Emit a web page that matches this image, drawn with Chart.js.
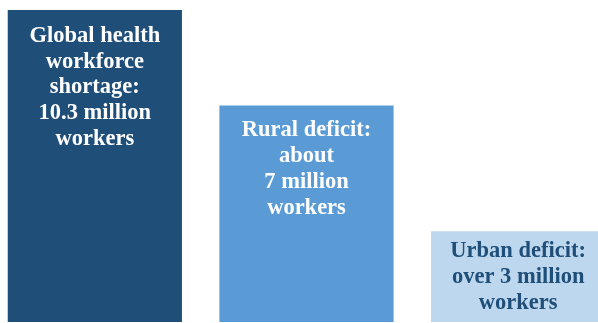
<!DOCTYPE html>
<html>
<head>
<meta charset="utf-8">
<script src="https://cdn.jsdelivr.net/npm/chart.js@4.4.1/dist/chart.umd.min.js"></script>
<style>
  html, body { margin: 0; padding: 0; background: #fff; overflow: hidden; }
  #wrap { position: absolute; left: -11px; top: 0; width: 635px; height: 323px; }
</style>
</head>
<body>
<div id="wrap"><canvas id="chart"></canvas></div>
<script>
// values in millions of workers
const categories = ['Global', 'Rural', 'Urban'];
const shortage = [10.3, 7.15, 3.0];
const barLabels = [
    ['Global health', 'workforce', 'shortage:', '10.3 million', 'workers'],
    ['Rural deficit:', 'about', '7 million', 'workers'],
    ['Urban deficit:', 'over 3 million', 'workers']
];

const barColors = ['#1f4e79', '#5b9bd5', '#bdd7ee'];
const textColors = ['#ffffff', '#ffffff', '#1f4e79'];
const textOffsets = [26, 25, 20];

// writes the label lines inside each bar, starting near its top
const insideLabels = {
    id: 'insideLabels',
    afterDatasetsDraw(chart) {
        const ctx = chart.ctx;
        const meta = chart.getDatasetMeta(0);
        ctx.save();
        ctx.font = 'bold 22.5px "Liberation Serif", serif';
        ctx.textAlign = 'center';
        ctx.textBaseline = 'middle';
        meta.data.forEach((bar, i) => {
            ctx.fillStyle = textColors[i];
            barLabels[i].forEach((line, j) => {
                ctx.fillText(line, bar.x, bar.y + textOffsets[i] + j * 25.8);
            });
        });
        ctx.restore();
    }
};

new Chart(document.getElementById('chart'), {
    type: 'bar',
    data: {
        labels: categories,
        datasets: [{
            data: shortage,
            backgroundColor: barColors,
            borderWidth: 0,
            categoryPercentage: 1,
            barPercentage: 0.823
        }]
    },
    options: {
        responsive: true,
        maintainAspectRatio: false,
        animation: false,
        layout: { padding: { top: 10, bottom: 1, left: 0, right: 0 } },
        scales: {
            x: { display: false },
            y: { display: false, min: 0, max: 10.3 }
        },
        plugins: {
            legend: { display: false },
            tooltip: { enabled: false }
        }
    },
    plugins: [insideLabels]
});
</script>
</body>
</html>
